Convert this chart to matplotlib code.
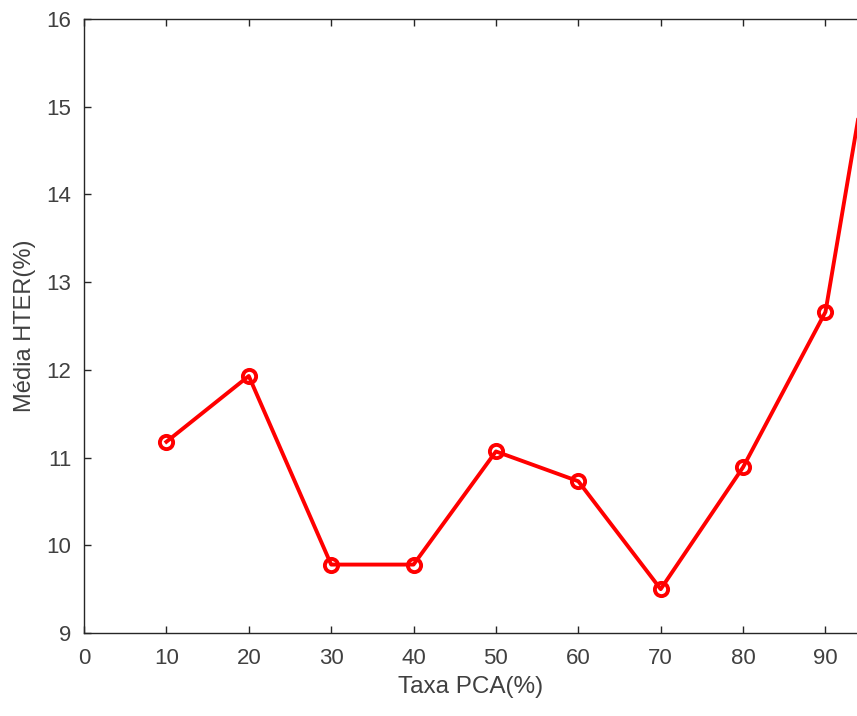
import matplotlib
matplotlib.use("Agg")
import matplotlib.pyplot as plt

# Values
taxa_pca = [10, 20, 30, 40, 50, 60, 70, 80, 90, 100]
media_hter = [11.18, 11.93, 9.78, 9.78, 11.07, 10.73, 9.50, 10.89, 12.66, 18.2]

x_ticks = [0, 10, 20, 30, 40, 50, 60, 70, 80, 90]
y_ticks = [9, 10, 11, 12, 13, 14, 15, 16]

plt.rcParams['font.family'] = ['Liberation Sans', 'DejaVu Sans']
text_gray = '#404040'

fig = plt.figure(figsize=(8.57, 7.16), dpi=100)
ax = fig.add_axes([84 / 857, 83 / 716, 774 / 857, 614 / 716])

ax.plot(taxa_pca, media_hter, color='#ff0000', linewidth=2.8,
        marker='o', markersize=9.5, markerfacecolor='none',
        markeredgecolor='#ff0000', markeredgewidth=2.8)

ax.set_xlim(0, 93.95)
ax.set_ylim(9, 16)
ax.set_xticks(x_ticks)
ax.set_yticks(y_ticks)

ax.set_xlabel('Taxa PCA(%)', fontsize=17.5, color=text_gray, labelpad=5)
ax.set_ylabel('Média HTER(%)', fontsize=17, color=text_gray, labelpad=8)

ax.tick_params(direction='in', length=5, width=1, colors='#262626',
               labelcolor=text_gray, labelsize=16, top=True, right=False)
ax.tick_params(axis='x', pad=11)
ax.tick_params(axis='y', pad=9)
for side in ['left', 'bottom', 'top']:
    ax.spines[side].set_color('#262626')
    ax.spines[side].set_linewidth(1)
ax.spines['right'].set_visible(False)

fig.savefig('out.png', dpi=100)
